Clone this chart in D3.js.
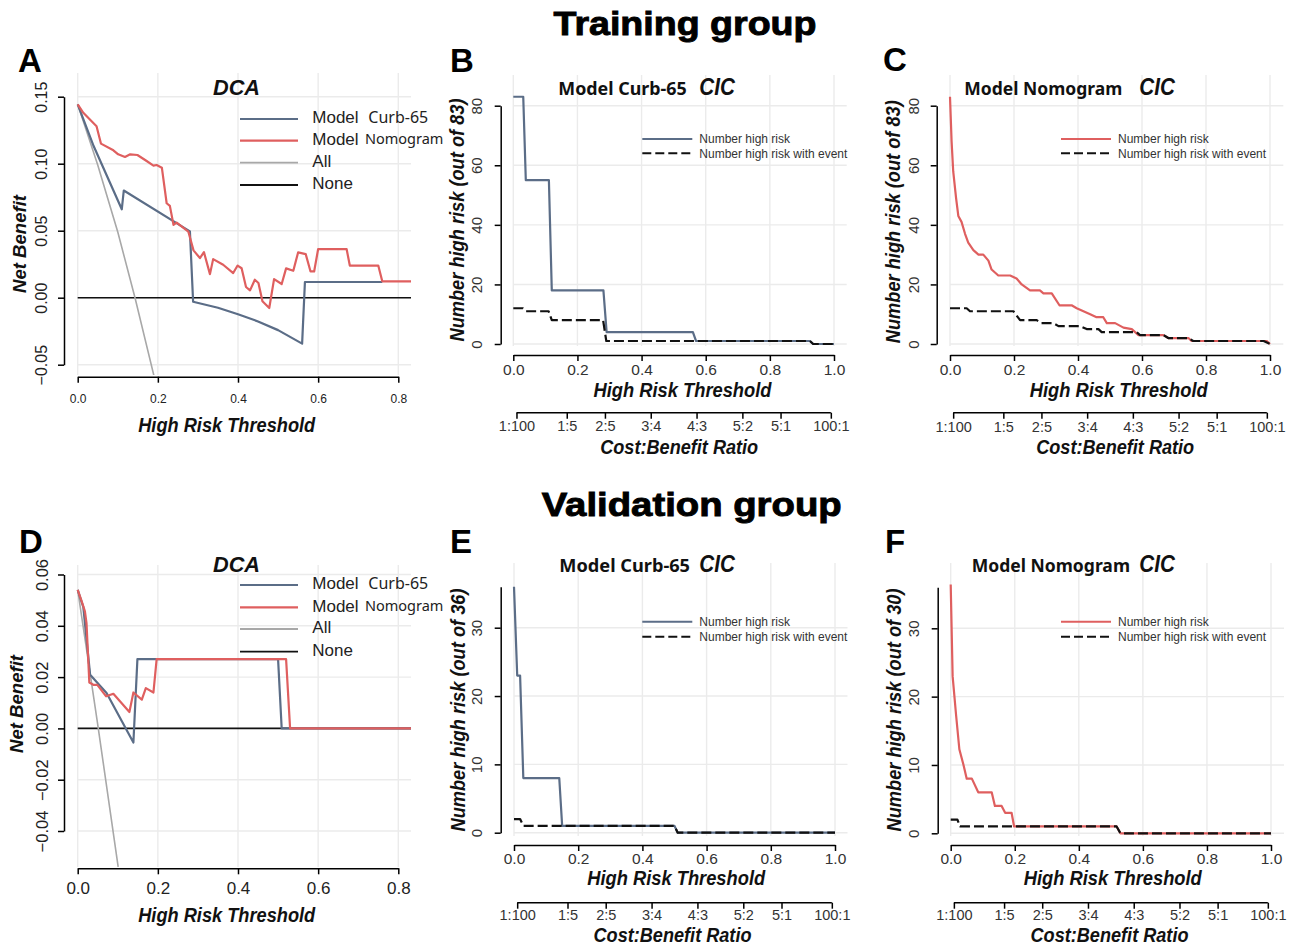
<!DOCTYPE html>
<html><head><meta charset="utf-8">
<script src="https://cdn.jsdelivr.net/npm/d3@7"></script>
<style>body{margin:0;background:#fff}</style>
</head><body>
<script>
// ---------------- DATA ----------------
// Training DCA (panel A): [threshold, net benefit]
const trainCurbNB = [[0,0.1443],[0.04,0.113],[0.11,0.066],[0.115,0.080],[0.28,0.0495],[0.288,-0.003],[0.35,-0.0075],[0.40,-0.0123],[0.45,-0.0177],[0.50,-0.0242],[0.56,-0.0343],[0.567,0.0117],[0.76,0.0117]];
const trainNomoNB = [[0,0.1443],[0.014,0.138],[0.047,0.128],[0.058,0.115],[0.089,0.110],[0.101,0.107],[0.118,0.105],[0.131,0.107],[0.149,0.1065],[0.172,0.102],[0.189,0.0986],[0.197,0.099],[0.21,0.097],[0.222,0.0705],[0.23,0.0685],[0.239,0.0544],[0.247,0.056],[0.276,0.0494],[0.289,0.0353],[0.305,0.0296],[0.315,0.034],[0.33,0.0176],[0.338,0.0288],[0.363,0.0246],[0.388,0.0184],[0.399,0.024],[0.409,0.022],[0.42,0.008],[0.43,0.0055],[0.442,0.0134],[0.451,0.011],[0.461,-0.0027],[0.478,-0.0077],[0.49,0.0139],[0.509,0.0102],[0.52,0.0219],[0.538,0.0201],[0.55,0.0338],[0.569,0.0325],[0.581,0.0196],[0.59,0.0196],[0.60,0.0363],[0.671,0.0363],[0.679,0.024],[0.75,0.024],[0.76,0.0122],[0.832,0.0122]];
const trainAllNB = [[0,0.1443],[0.05,0.099],[0.10,0.049],[0.143,0],[0.19,-0.058]];
// Validation DCA (panel D)
const validCurbNB = [[0,0.054],[0.014,0.0473],[0.031,0.0209],[0.072,0.0138],[0.139,-0.0055],[0.149,0.027],[0.197,0.027],[0.50,0.027],[0.509,0],[0.832,0]];
const validNomoNB = [[0,0.054],[0.01,0.0495],[0.018,0.0456],[0.022,0.041],[0.029,0.0179],[0.039,0.017],[0.049,0.017],[0.071,0.0125],[0.089,0.0135],[0.129,0.0064],[0.139,0.014],[0.16,0.0112],[0.17,0.0157],[0.189,0.014],[0.197,0.027],[0.52,0.027],[0.53,0],[0.832,0]];
const validAllNB = [[0,0.054],[0.05,0.0015],[0.101,-0.054]];
// Training CIC (panels B, C): [threshold, count]
const trainCurbHigh = [[0,83],[0.031,83],[0.039,55],[0.111,55],[0.12,18],[0.281,18],[0.291,4],[0.56,4],[0.57,1],[0.925,1],[0.935,0],[1,0]];
const trainCurbEvent = [[0,12],[0.03,12],[0.04,11],[0.11,11],[0.12,8],[0.28,8],[0.29,1],[0.925,1],[0.935,0],[1,0]];
const trainNomoHigh = [[0,83],[0.005,68],[0.01,58],[0.019,49],[0.026,43],[0.036,41],[0.047,37],[0.057,34],[0.073,31.5],[0.089,30],[0.104,30],[0.12,28],[0.13,25],[0.151,23],[0.188,23],[0.208,22],[0.224,20],[0.25,18],[0.281,18],[0.292,17],[0.318,17],[0.342,13],[0.38,13],[0.396,12],[0.417,11],[0.438,10],[0.458,9],[0.479,9],[0.49,7],[0.516,7],[0.542,5.5],[0.568,5],[0.589,3],[0.667,3],[0.682,2],[0.745,2],[0.755,1],[0.99,1],[1,0]];
const trainNomoEvent = [[0,12],[0.052,12],[0.0625,11],[0.198,11],[0.219,8],[0.271,8],[0.286,7],[0.323,7],[0.339,6],[0.406,6],[0.427,5],[0.464,5],[0.474,4],[0.583,4],[0.594,3],[0.667,3],[0.682,2],[0.745,2],[0.76,1],[0.98,1],[1,0]];
// Validation CIC (panels E, F)
const validCurbHigh = [[0,36],[0.01,23],[0.019,23],[0.029,8],[0.141,8],[0.15,1],[0.5,1],[0.51,0],[1,0]];
const validCurbEvent = [[0,2],[0.019,2],[0.029,1],[0.5,1],[0.51,0],[1,0]];
const validNomoHigh = [[0,36.4],[0.006,23],[0.017,17.2],[0.027,12.3],[0.04,10],[0.05,8],[0.066,8],[0.086,6],[0.128,6],[0.138,4],[0.159,4],[0.17,3],[0.19,3],[0.198,1],[0.518,1],[0.53,0],[1,0]];
const validNomoEvent = [[0,2],[0.021,2],[0.029,1],[0.518,1],[0.53,0],[1,0]];
// Ticks and labels
const dcaXTicks = [0,0.2,0.4,0.6,0.8];
const trainNBTicks = [-0.05,0,0.05,0.10,0.15];
const validNBTicks = [-0.04,-0.02,0,0.02,0.04,0.06];
const cicXTicks = [0,0.2,0.4,0.6,0.8,1.0];
const trainCountTicks = [0,20,40,60,80];
const validCountTicks = [0,10,20,30];
const costBenefitLabels = ["1:100","1:5","2:5","3:4","4:3","5:2","5:1","100:1"];
const dcaLegendModels = ["Curb-65","Nomogram"];
const dcaLegendRefs = ["All","None"];
const cicLegendLabels = ["Number high risk","Number high risk with event"];

// ---------------- STYLE ----------------
const FONT = '"Liberation Sans", Arial, Helvetica, sans-serif';
const NOTO = '"Noto Sans", "Open Sans", sans-serif';
const BLUE = "#5b6d87", RED = "#df5f5f", GRAY = "#a8a8a8", GRID = "#ebebeb";

const svg = d3.select("body").append("svg").attr("width",1295).attr("height",946).style("background","#fff");

function addText(o){
  const t = svg.append("text").attr("x",o.x).attr("y",o.y).text(o.text)
    .attr("font-family",o.family||FONT).attr("font-size",o.size)
    .attr("font-weight",o.weight||"normal").attr("font-style",o.style||"normal")
    .attr("text-anchor",o.anchor||"start").attr("fill",o.fill||"#111");
  if(o.len) t.attr("textLength",o.len).attr("lengthAdjust","spacingAndGlyphs");
  if(o.rotate) t.attr("transform",`rotate(-90,${o.x},${o.y})`);
  if(o.dy) t.attr("dy",o.dy);
  if(o.stroke) t.attr("stroke",o.fill||"#111").attr("stroke-width",o.stroke);
  return t;
}
const minusFmt = f => d => f(d).replace("-","\u2212");

function styleAxis(a){
  a.selectAll("path,line").attr("stroke","#000").attr("stroke-width",1.5);
  a.attr("font-family",FONT);
}

// ---------------- DCA PANELS ----------------
const dcaPanels = [
  {id:"A", xRange:[77.7,398.3], gridRight:411, yDomain:[-0.05,0.15], yRange:[364.7,96.7], gridTop:73, gridBottom:375,
   yAxisX:64, xAxisY:376.7, yTicks:trainNBTicks, xTickSize:12, xTickY:399.3, yTickSize:16, yTickCX:41,
   curb:trainCurbNB, nomo:trainNomoNB, all:trainAllNB, yTitle:[19.3,244], xTitle:[226.7,431.7], titleY:95,
   legY:[119,140.7,162.7,185], letter:[18,72]},
  {id:"D", xRange:[77.7,398.3], gridRight:411, yDomain:[-0.04,0.06], yRange:[831,574.5], gridTop:565, gridBottom:867,
   yAxisX:64, xAxisY:868.3, yTicks:validNBTicks, xTickSize:17, xTickY:888.3, yTickSize:16.5, yTickCX:41.7,
   curb:validCurbNB, nomo:validNomoNB, all:validAllNB, yTitle:[16.7,704], xTitle:[226.7,921.7], titleY:572.3,
   legY:[585,607.3,629,651.7], letter:[19,553]}
];

dcaPanels.forEach(p=>{
  const g = svg.append("g");
  const x = d3.scaleLinear().domain([0,0.8]).range(p.xRange);
  const y = d3.scaleLinear().domain(p.yDomain).range(p.yRange);
  const xMax = x.invert(p.gridRight);
  g.selectAll(".vg").data(dcaXTicks).join("line").attr("x1",d=>x(d)).attr("x2",d=>x(d))
    .attr("y1",p.gridTop).attr("y2",p.gridBottom).attr("stroke",GRID).attr("stroke-width",1.4);
  g.selectAll(".hg").data(p.yTicks).join("line").attr("x1",x(0)).attr("x2",p.gridRight)
    .attr("y1",d=>y(d)).attr("y2",d=>y(d)).attr("stroke",GRID).attr("stroke-width",1.4);
  const cid = "clip"+p.id;
  svg.append("clipPath").attr("id",cid).append("rect").attr("x",x(0)-3).attr("y",p.gridTop-5)
    .attr("width",p.gridRight-x(0)+3).attr("height",p.gridBottom-p.gridTop+5);
  const lg = g.append("g").attr("clip-path",`url(#${cid})`).attr("fill","none").attr("stroke-linejoin","round");
  const line = d3.line().x(d=>x(d[0])).y(d=>y(d[1]));
  lg.append("path").attr("d",line([[0,0],[xMax,0]])).attr("stroke","#111").attr("stroke-width",1.6);
  lg.append("path").attr("d",line(p.all)).attr("stroke",GRAY).attr("stroke-width",1.6);
  lg.append("path").attr("d",line(p.curb)).attr("stroke",BLUE).attr("stroke-width",2.2);
  lg.append("path").attr("d",line(p.nomo)).attr("stroke",RED).attr("stroke-width",2.2);
  // axes
  const ya = g.append("g").attr("transform",`translate(${p.yAxisX},0)`)
    .call(d3.axisLeft(y).tickValues(p.yTicks).tickSize(6).tickSizeOuter(0).tickFormat(minusFmt(d3.format(".2f"))));
  styleAxis(ya);
  ya.attr("font-size",p.yTickSize);
  ya.selectAll(".tick text").attr("transform","rotate(-90)").attr("x",0)
    .attr("y",p.yTickCX + 0.36*p.yTickSize - p.yAxisX).attr("dy",null).attr("text-anchor","middle").attr("fill","#222");
  const xa = g.append("g").attr("transform",`translate(0,${p.xAxisY})`)
    .call(d3.axisBottom(x).tickValues(dcaXTicks).tickSize(6).tickSizeOuter(0).tickFormat(d3.format(".1f")));
  styleAxis(xa);
  xa.attr("font-size",p.xTickSize);
  xa.selectAll(".tick text").attr("y",p.xTickY - p.xAxisY).attr("dy","0.35em").attr("fill","#222");
  // titles
  addText({x:p.yTitle[0],y:p.yTitle[1],text:"Net Benefit",size:19,weight:"bold",style:"italic",anchor:"middle",rotate:true,dy:"0.35em",len:98});
  addText({x:p.xTitle[0],y:p.xTitle[1],text:"High Risk Threshold",size:21,weight:"bold",style:"italic",anchor:"middle",len:177});
  addText({x:236.5,y:p.titleY,text:"DCA",size:22,weight:"bold",style:"italic",anchor:"middle",len:47});
  // legend
  const legColors = [BLUE,RED,GRAY,"#111"];
  p.legY.forEach((ly,i)=>{
    svg.append("line").attr("x1",240).attr("x2",298).attr("y1",ly).attr("y2",ly)
      .attr("stroke",legColors[i]).attr("stroke-width",i<2?2.2:1.8);
  });
  for(let i=0;i<2;i++){
    addText({x:312.3,y:p.legY[i]-1.5,text:"Model",size:17,dy:"0.35em",fill:"#222"});
    addText({x:i===0?368.3:365,y:p.legY[i]-(i===0?1.5:1.7),text:dcaLegendModels[i],size:i===0?16:14.5,family:NOTO,dy:"0.35em",fill:"#222"});
  }
  for(let i=0;i<2;i++){
    addText({x:312.3,y:p.legY[i+2]-1.5,text:dcaLegendRefs[i],size:17,dy:"0.35em",fill:"#222"});
  }
  addText({x:p.letter[0],y:p.letter[1],text:p.id,size:33,weight:"bold",fill:"#000"});
});

// ---------------- CIC PANELS ----------------
const cbValues = costBenefitLabels.map(s=>{const [a,b]=s.split(":").map(Number); return a/(a+b);});
const cicPanels = [
  {id:"B", xRange:[513.3,834], gridRight:846.7, yDomain:[0,80], yRange:[344,105.7], gridTop:75, gridBottom:346, yTicks:trainCountTicks,
   yAxisX:500.7, xAxisY:355, xTickY:370, yTickCX:476.7, costY:412.7, costLabelY:426.3, high:trainCurbHigh, event:trainCurbEvent, color:BLUE,
   model:"Model Curb-65", modelX:558.3, modelLen:128.4, titleY:95, cicX:699.3, yTitleText:"Number high risk (out of 83)", yTitle:[456.7,220],
   xTitle:[682.5,397.3], cbTitle:[679.2,453.5], legX:642.3, legY:[139,153.3], letter:[450,72]},
  {id:"C", xRange:[950,1270], gridRight:1283.3, yDomain:[0,80], yRange:[344,105.7], gridTop:75, gridBottom:346, yTicks:trainCountTicks,
   yAxisX:936.7, xAxisY:355, xTickY:370, yTickCX:914, costY:412.7, costLabelY:426.8, high:trainNomoHigh, event:trainNomoEvent, color:RED,
   model:"Model Nomogram", modelX:964.3, modelLen:158, titleY:95, cicX:1139.3, yTitleText:"Number high risk (out of 83)", yTitle:[892.7,221.7],
   xTitle:[1118.7,397.3], cbTitle:[1115.2,453.5], legX:1061, legY:[139,153.3], letter:[883,71]},
  {id:"E", xRange:[514,835], gridRight:847.5, yDomain:[0,36], yRange:[832.7,586.7], gridTop:563, gridBottom:836, yTicks:validCountTicks,
   yAxisX:500.7, xAxisY:845, xTickY:858.3, yTickCX:476.7, costY:902.7, costLabelY:914.8, high:validCurbHigh, event:validCurbEvent, color:BLUE,
   model:"Model Curb-65", modelX:559.3, modelLen:130.7, titleY:571.5, cicX:699.3, yTitleText:"Number high risk (out of 36)", yTitle:[457.7,710],
   xTitle:[676.2,885], cbTitle:[672.5,942], legX:642.3, legY:[621.7,636.7], letter:[450,553]},
  {id:"F", xRange:[950.7,1271], gridRight:1284, yDomain:[0,36], yRange:[833.3,587.3], gridTop:563, gridBottom:836, yTicks:validCountTicks,
   yAxisX:937.7, xAxisY:845, xTickY:858.3, yTickCX:914, costY:902.7, costLabelY:914.8, high:validNomoHigh, event:validNomoEvent, color:RED,
   model:"Model Nomogram", modelX:971.7, modelLen:158.3, titleY:571.5, cicX:1139.3, yTitleText:"Number high risk (out of 30)", yTitle:[894,710],
   xTitle:[1112.8,885], cbTitle:[1109.5,942], legX:1061, legY:[621.7,636.7], letter:[885,553]}
];

cicPanels.forEach(p=>{
  const g = svg.append("g");
  const x = d3.scaleLinear().domain([0,1]).range(p.xRange);
  const y = d3.scaleLinear().domain(p.yDomain).range(p.yRange);
  g.selectAll(".vg").data(cicXTicks).join("line").attr("x1",d=>x(d)).attr("x2",d=>x(d))
    .attr("y1",p.gridTop).attr("y2",p.gridBottom).attr("stroke",GRID).attr("stroke-width",1.4);
  g.selectAll(".hg").data(p.yTicks).join("line").attr("x1",x(0)).attr("x2",p.gridRight)
    .attr("y1",d=>y(d)).attr("y2",d=>y(d)).attr("stroke",GRID).attr("stroke-width",1.4);
  const line = d3.line().x(d=>x(d[0])).y(d=>y(d[1]));
  const lg = g.append("g").attr("fill","none").attr("stroke-linejoin","round");
  lg.append("path").attr("d",line(p.high)).attr("stroke",p.color).attr("stroke-width",2.2);
  lg.append("path").attr("d",line(p.event)).attr("stroke","#111").attr("stroke-width",2.2).attr("stroke-dasharray","10,4");
  // axes
  const ya = g.append("g").attr("transform",`translate(${p.yAxisX},0)`)
    .call(d3.axisLeft(y).tickValues(p.yTicks).tickSize(6).tickSizeOuter(0).tickFormat(d3.format("d")));
  styleAxis(ya);
  ya.attr("font-size",15);
  ya.selectAll(".tick text").attr("transform","rotate(-90)").attr("x",0)
    .attr("y",p.yTickCX + 0.36*15 - p.yAxisX).attr("dy",null).attr("text-anchor","middle").attr("fill","#333");
  const xa = g.append("g").attr("transform",`translate(0,${p.xAxisY})`)
    .call(d3.axisBottom(x).tickValues(cicXTicks).tickSize(6).tickSizeOuter(0).tickFormat(d3.format(".1f")));
  styleAxis(xa);
  xa.attr("font-size",15.5);
  xa.selectAll(".tick text").attr("y",p.xTickY - p.xAxisY).attr("dy","0.35em").attr("fill","#333");
  const ca = g.append("g").attr("transform",`translate(0,${p.costY})`)
    .call(d3.axisBottom(x).tickValues(cbValues).tickSize(6).tickSizeOuter(0).tickFormat((d,i)=>costBenefitLabels[i]));
  styleAxis(ca);
  ca.select(".domain").attr("d",`M${x(cbValues[0])},0H${x(cbValues[cbValues.length-1])}`);
  ca.attr("font-size",14.5);
  ca.selectAll(".tick text").attr("y",p.costLabelY - p.costY).attr("dy","0.35em").attr("fill","#333");
  // titles
  addText({x:p.yTitle[0],y:p.yTitle[1],text:p.yTitleText,size:20,weight:"bold",style:"italic",anchor:"middle",rotate:true,dy:"0.35em",len:243});
  addText({x:p.xTitle[0],y:p.xTitle[1],text:"High Risk Threshold",size:21,weight:"bold",style:"italic",anchor:"middle",len:178});
  addText({x:p.cbTitle[0],y:p.cbTitle[1],text:"Cost:Benefit Ratio",size:20,weight:"bold",style:"italic",anchor:"middle",len:158});
  addText({x:p.modelX,y:p.titleY,text:p.model,size:17,weight:"bold",family:NOTO,len:p.modelLen,fill:"#111"});
  addText({x:p.cicX,y:p.titleY,text:"CIC",size:23,weight:"bold",style:"italic",len:35.7,fill:"#111"});
  // legend
  svg.append("line").attr("x1",p.legX).attr("x2",p.legX+50).attr("y1",p.legY[0]).attr("y2",p.legY[0])
    .attr("stroke",p.color).attr("stroke-width",2);
  svg.append("line").attr("x1",p.legX).attr("x2",p.legX+50).attr("y1",p.legY[1]).attr("y2",p.legY[1])
    .attr("stroke","#111").attr("stroke-width",2).attr("stroke-dasharray","9,4");
  cicLegendLabels.forEach((t,i)=>addText({x:p.legX+57,y:p.legY[i],text:t,size:12,dy:"0.35em",fill:"#333"}));
  addText({x:p.letter[0],y:p.letter[1],text:p.id,size:33,weight:"bold",fill:"#000"});
});

// ---------------- HEADERS ----------------
addText({x:685,y:35,text:"Training group",size:33,weight:"bold",anchor:"middle",len:263,stroke:0.9,fill:"#000"});
addText({x:691.7,y:516,text:"Validation group",size:33,weight:"bold",anchor:"middle",len:300,stroke:0.9,fill:"#000"});
</script>
</body></html>
